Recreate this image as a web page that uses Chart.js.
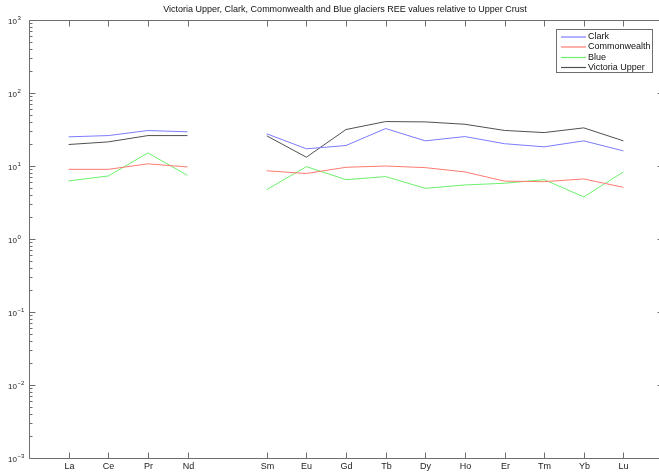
<!DOCTYPE html>
<html>
<head>
<meta charset="utf-8">
<script src="https://cdn.jsdelivr.net/npm/chart.js@4"></script>
<style>
  html, body { margin: 0; padding: 0; background: #fff; overflow: hidden; }
  #wrap { width: 664px; height: 472px; }
</style>
</head>
<body>
<div id="wrap"><canvas id="chartCanvas" width="664" height="472"></canvas></div>
<script>
// --- Data ---
const elements = ["La", "Ce", "Pr", "Nd", "Pm", "Sm", "Eu", "Gd", "Tb", "Dy", "Ho", "Er", "Tm", "Yb", "Lu"];
const tickLabels = ["La", "Ce", "Pr", "Nd", "Sm", "Eu", "Gd", "Tb", "Dy", "Ho", "Er", "Tm", "Yb", "Lu"];
const clark = [25.1, 26.1, 30.6, 29.4, null, 27.6, 17.2, 19.1, 32.6, 22.1, 25.3, 20.2, 18.3, 22.1, 16.1];
const commonwealth = [9.0, 9.0, 10.7, 9.7, null, 8.6, 7.9, 9.6, 10.0, 9.5, 8.3, 6.2, 6.1, 6.65, 5.1];
const blue = [6.25, 7.3, 15.1, 7.45, null, 4.75, 9.8, 6.5, 7.16, 4.94, 5.5, 5.8, 6.5, 3.77, 8.3];
const victoriaUpper = [19.7, 21.4, 26.1, 26.1, null, 25.9, 13.2, 31.6, 40.6, 40.2, 37.3, 30.7, 28.7, 33.3, 22.1];
const yDecades = [-3, -2, -1, 0, 1, 2, 3];
const titleText = "Victoria Upper, Clark, Commonwealth and Blue glaciers REE values relative to Upper Crust";

const FONT = '"Liberation Sans", Arial, Helvetica, sans-serif';
const AXIS = "#6e6e6e";
const colors = ["#7b7bff", "#ff7a70", "#6cf06c", "#505050"];

const toPoints = vals => vals.map((v, i) => ({ x: i + 1, y: v }));
const series = (label, vals, color) => ({
  label, data: toPoints(vals), borderColor: color, borderWidth: 1,
  pointRadius: 0, tension: 0, spanGaps: false, fill: false
});

// --- Axes, ticks, legend and title drawn MATLAB-style ---
const matlabFrame = {
  id: "matlabFrame",
  afterDraw(chart) {
    const ctx = chart.ctx;
    const xs = chart.scales.x, ys = chart.scales.y;
    const a = chart.chartArea;
    const L = Math.round(a.left) + 0.5, R = Math.round(a.right) + 0.5;
    const T = Math.round(a.top) + 0.5, B = Math.round(a.bottom) + 0.5;
    ctx.save();
    ctx.strokeStyle = AXIS;
    ctx.lineWidth = 1;
    ctx.beginPath();
    ctx.moveTo(L, B); ctx.lineTo(L, T); ctx.lineTo(R, T); ctx.lineTo(R, B); ctx.lineTo(L, B);
    ctx.stroke();

    // x ticks + labels
    ctx.fillStyle = "#222";
    ctx.font = "9px " + FONT;
    ctx.textAlign = "center";
    ctx.textBaseline = "middle";
    ctx.beginPath();
    elements.forEach((el, i) => {
      if (!tickLabels.includes(el)) return;
      const px = Math.round(xs.getPixelForValue(i + 1)) + 0.5;
      ctx.moveTo(px, B); ctx.lineTo(px, B - 6);
      ctx.moveTo(px, T); ctx.lineTo(px, T + 6);
      ctx.fillText(el, px, B + 8);
    });
    // y ticks (major + minor)
    yDecades.forEach((d, k) => {
      const py = Math.round(ys.getPixelForValue(Math.pow(10, d))) + 0.5;
      ctx.moveTo(L, py); ctx.lineTo(L + 6, py);
      ctx.moveTo(R, py); ctx.lineTo(R - 6, py);
      if (k < yDecades.length - 1) {
        for (let m = 2; m <= 9; m++) {
          const my = Math.round(ys.getPixelForValue(m * Math.pow(10, d))) + 0.5;
          ctx.moveTo(L, my); ctx.lineTo(L + 3, my);
          ctx.moveTo(R, my); ctx.lineTo(R - 3, my);
        }
      }
    });
    ctx.stroke();

    // y labels 10^n
    yDecades.forEach(d => {
      const py = ys.getPixelForValue(Math.pow(10, d));
      ctx.textAlign = "right";
      ctx.font = "8px " + FONT;
      ctx.fillText("10", 17, py + 2);
      ctx.textAlign = "left";
      ctx.font = "6px " + FONT;
      ctx.fillText(d < 0 ? "\u2212" + (-d) : String(d), 17.5, py - 2);
    });

    // title
    ctx.textAlign = "center";
    ctx.font = "9px " + FONT;
    ctx.fillStyle = "#111";
    ctx.fillText(titleText, 345, 10);

    // legend box
    const lx = 556.5, ly = 29.5, lw = 96, lh = 43;
    ctx.fillStyle = "#fff";
    ctx.fillRect(lx, ly, lw, lh);
    ctx.strokeStyle = AXIS;
    ctx.strokeRect(lx, ly, lw, lh);
    const rows = [37, 47, 57.5, 67.5];
    chart.data.datasets.forEach((ds, i) => {
      ctx.strokeStyle = ds.borderColor;
      ctx.lineWidth = 1.2;
      ctx.beginPath();
      ctx.moveTo(561, rows[i]);
      ctx.lineTo(586, rows[i]);
      ctx.stroke();
      ctx.fillStyle = "#111";
      ctx.textAlign = "left";
      ctx.font = "9px " + FONT;
      ctx.fillText(ds.label, 588, rows[i]);
    });
    ctx.restore();
  }
};

const config = {
  type: "line",
  data: {
    datasets: [
      series("Clark", clark, colors[0]),
      series("Commonwealth", commonwealth, colors[1]),
      series("Blue", blue, colors[2]),
      series("Victoria Upper", victoriaUpper, colors[3])
    ]
  },
  options: {
    responsive: false,
    animation: false,
    layout: { padding: { left: 29, right: 1, top: 20, bottom: 14 } },
    plugins: { legend: { display: false }, tooltip: { enabled: false } },
    scales: {
      x: { type: "linear", min: 0, max: 16, display: false },
      y: { type: "logarithmic", min: 0.001, max: 1000, display: false }
    }
  },
  plugins: [matlabFrame]
};

new Chart(document.getElementById("chartCanvas").getContext("2d"), config);
</script>
</body>
</html>
